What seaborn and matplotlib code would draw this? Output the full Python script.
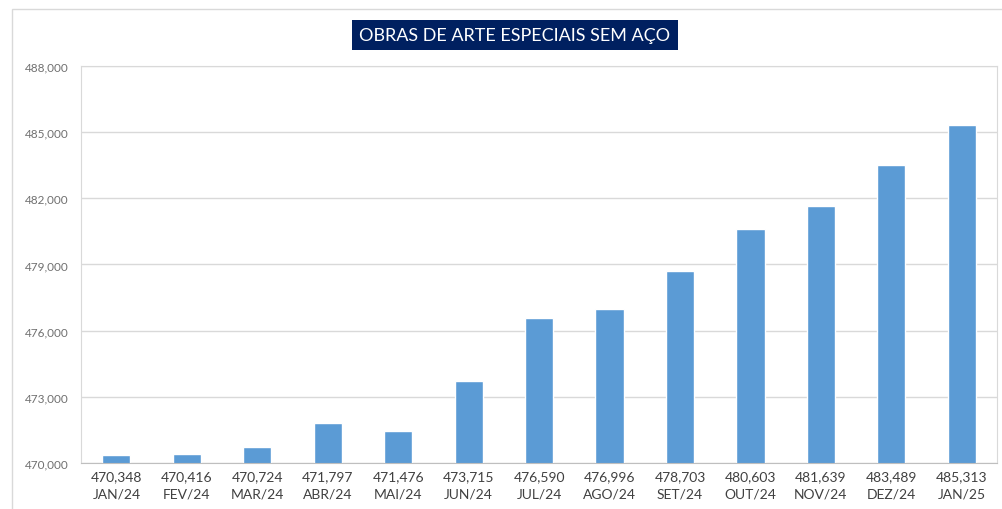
import numpy as np
import pandas as pd
import seaborn as sns
import matplotlib.pyplot as plt
from matplotlib.patches import Rectangle
from matplotlib.ticker import FuncFormatter, FixedLocator

months = ["JAN/24", "FEV/24", "MAR/24", "ABR/24", "MAI/24", "JUN/24", "JUL/24",
          "AGO/24", "SET/24", "OUT/24", "NOV/24", "DEZ/24", "JAN/25"]
values = [470348, 470416, 470724, 471797, 471476, 473715, 476590,
          476996, 478703, 480603, 481639, 483489, 485313]
yticks = [470000, 473000, 476000, 479000, 482000, 485000, 488000]

df = pd.DataFrame({"mes": months, "valor": values})
df["rotulo"] = [f"{v:,}\n{m}" for v, m in zip(values, months)]

sns.set_style("white")
plt.rcParams["font.family"] = ["Lato", "DejaVu Sans"]

fig = plt.figure(figsize=(10.02, 5.10), dpi=100)
ax = fig.add_axes([0.081, 0.090, 0.914, 0.779])

sns.barplot(data=df, x="rotulo", y="valor", color="#5B9BD5", width=0.4,
            saturation=1, ax=ax)

ax.set_ylim(470000, 488000)
ax.set_xlim(-0.5, len(months) - 0.5)
ax.set_yticks(yticks)
ax.yaxis.set_major_formatter(FuncFormatter(lambda v, p: f"{int(v):,}"))
ax.grid(axis="y", color="#D9D9D9", linewidth=1)
ax.set_axisbelow(True)
ax.set_xlabel("")
ax.set_ylabel("")

ax.tick_params(axis="x", which="major", length=0, labelsize=10, labelcolor="#404040", pad=5)
ax.set_xticks(range(len(months)), df["rotulo"], linespacing=1.55)
ax.tick_params(axis="y", length=0, labelsize=8.5, labelcolor="#707070", pad=9)
ax.xaxis.set_minor_locator(FixedLocator(np.arange(-0.5, len(months), 1)))
ax.tick_params(axis="x", which="minor", length=5, color="#BFBFBF", width=1)

for s in ["top", "right", "left"]:
    ax.spines[s].set_color("#D9D9D9")
ax.spines["bottom"].set_color("#BFBFBF")

# outer chart border
fig.patches.append(Rectangle((0.012, -0.01), 1.0, 0.99, transform=fig.transFigure,
                             fill=False, edgecolor="#D9D9D9", linewidth=1))

fig.text(0.514, 0.929, "OBRAS DE ARTE ESPECIAIS SEM AÇO", ha="center", va="center",
         color="white", fontsize=13,
         bbox=dict(boxstyle="square,pad=0.4", facecolor="#002060", edgecolor="none"))

fig.savefig("out.png", dpi=100)
